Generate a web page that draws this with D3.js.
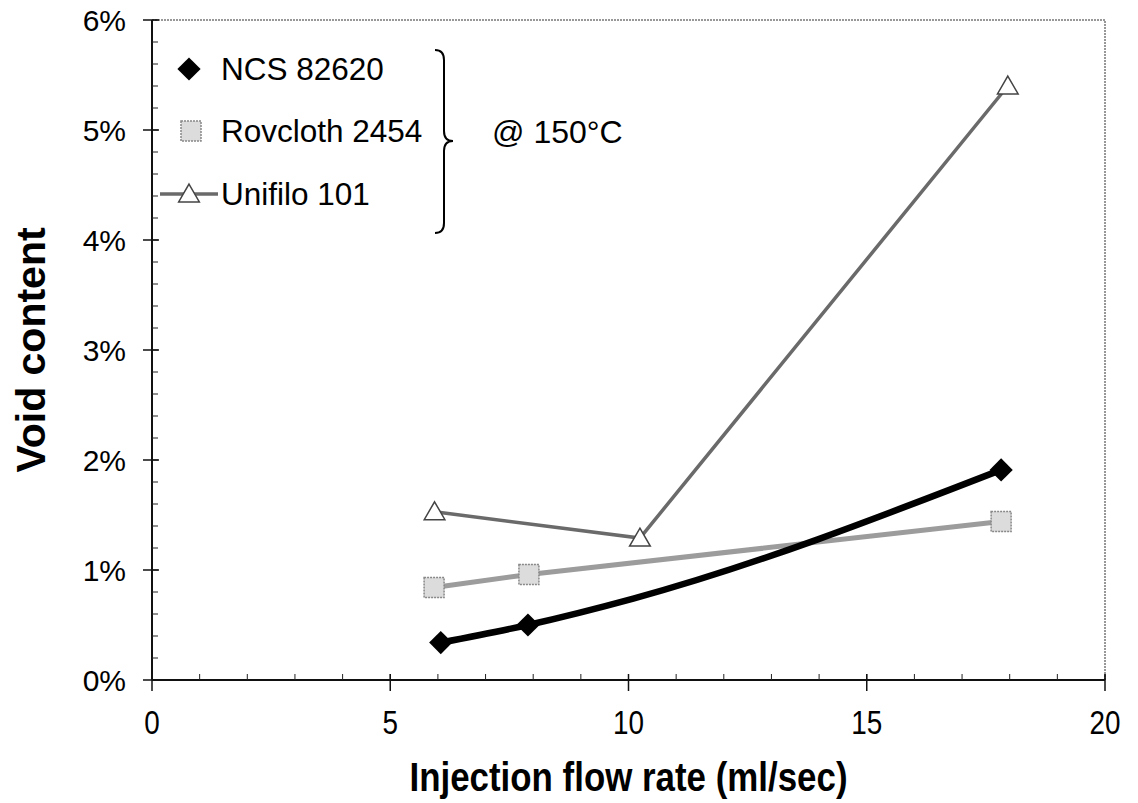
<!DOCTYPE html>
<html><head><meta charset="utf-8">
<script src="https://cdn.jsdelivr.net/npm/d3@7"></script>
<style>body{margin:0;background:#fff}svg{display:block}</style>
</head><body>
<script>
// ---- data ----
const xTicks = [0, 5, 10, 15, 20];
const yTicks = [0, 0.01, 0.02, 0.03, 0.04, 0.05, 0.06];
const ncsX = [6.06, 7.89, 10.1, 17.82];
const ncsY = [0.0034, 0.0050, 0.0074, 0.0191];
const ncsMarker = [true, true, false, true];
const rovX = [5.92, 7.91, 17.82];
const rovY = [0.0084, 0.0096, 0.0144];
const uniX = [5.93, 10.24, 17.96];
const uniY = [0.0153, 0.0129, 0.0540];
const seriesNames = ["NCS 82620", "Rovcloth 2454", "Unifilo 101"];
const noteText = "@ 150°C";
const xTitle = "Injection flow rate (ml/sec)";
const yTitle = "Void content";

(function () {
const W = 1138, H = 803;
const m = {left: 152, right: 33, top: 20, bottom: 123};
const svg = d3.select("body").append("svg").attr("width", W).attr("height", H);
const x = d3.scaleLinear().domain([0, 20]).range([m.left, W - m.right]);
const y = d3.scaleLinear().domain([0, 0.06]).range([H - m.bottom, m.top]);
const FONT = "'Liberation Sans', Arial, sans-serif";

// frame (top/right)
svg.append("path").attr("d", `M${x(0)},${y(0.06)}H${x(20)}V${y(0)}`)
  .attr("fill", "none").attr("stroke", "#777").attr("stroke-width", 1.5).attr("stroke-dasharray", "2,1");

// y axis
const gy = svg.append("g").attr("transform", `translate(${x(0)},0)`);
gy.append("line").attr("y1", y(0)).attr("y2", y(0.06)).attr("stroke", "#111").attr("stroke-width", 2);
const yMinor = d3.range(0, 0.0601, 0.002);
gy.selectAll(".ym").data(yMinor).join("line").attr("x1", 0).attr("x2", 6)
  .attr("y1", d => y(d)).attr("y2", d => y(d)).attr("stroke", "#222").attr("stroke-width", 1);
gy.selectAll(".yM").data(yTicks).join("line").attr("x1", -9).attr("x2", 7)
  .attr("y1", d => y(d)).attr("y2", d => y(d)).attr("stroke", "#111").attr("stroke-width", 1.5);
gy.selectAll(".yl").data(yTicks).join("text").attr("x", -26).attr("y", d => y(d) + 11)
  .attr("text-anchor", "end").attr("font-family", FONT).attr("font-size", 30).attr("fill", "#000")
  .text(d => d3.format(".0%")(d));

// x axis
const gx = svg.append("g").attr("transform", `translate(0,${y(0)})`);
gx.append("line").attr("x1", x(0)).attr("x2", x(20)).attr("stroke", "#111").attr("stroke-width", 2);
gx.selectAll(".xm").data(d3.range(0, 21, 1)).join("line").attr("y1", 0).attr("y2", -6)
  .attr("x1", d => x(d)).attr("x2", d => x(d)).attr("stroke", "#222").attr("stroke-width", 1);
gx.selectAll(".xM").data(xTicks).join("line").attr("y1", -6).attr("y2", 11)
  .attr("x1", d => x(d)).attr("x2", d => x(d)).attr("stroke", "#111").attr("stroke-width", 1.5);
gx.selectAll(".xl").data(xTicks).join("text")
  .attr("transform", d => `translate(${x(d)},54) scale(0.82,1)`)
  .attr("text-anchor", "middle").attr("font-family", FONT)
  .attr("font-size", 34).attr("fill", "#000").text(d => d);

// titles
svg.append("text").attr("x", x(10)).attr("y", 791).attr("text-anchor", "middle")
  .attr("font-family", FONT).attr("font-weight", "bold")
  .attr("font-size", 41).attr("textLength", 438).attr("lengthAdjust", "spacingAndGlyphs").text(xTitle);
svg.append("text").attr("transform", `translate(45,${y(0.03)}) rotate(-90)`).attr("text-anchor", "middle")
  .attr("font-family", FONT).attr("font-weight", "bold").attr("font-size", 41).text(yTitle);

// lines
const lineGen = () => d3.line().x(d => x(d[0])).y(d => y(d[1]));
const ncs = ncsX.map((v, i) => [v, ncsY[i]]);
const rov = rovX.map((v, i) => [v, rovY[i]]);
const uni = uniX.map((v, i) => [v, uniY[i]]);

svg.append("path").attr("d", lineGen()(uni)).attr("fill", "none").attr("stroke", "#6a6a6a").attr("stroke-width", 3.5);
svg.append("path").attr("d", lineGen()(rov)).attr("fill", "none").attr("stroke", "#9c9c9c").attr("stroke-width", 5);
svg.append("path").attr("d", lineGen().curve(d3.curveMonotoneX)(ncs))
  .attr("fill", "none").attr("stroke", "#000").attr("stroke-width", 6.5);

// markers
const diamond = d3.symbol().type(d3.symbolSquare).size(270);
const tri = d3.symbol().type(d3.symbolTriangle).size(185);
function drawDiamond(g, cx, cy) {
  g.append("path").attr("d", diamond()).attr("transform", `translate(${cx},${cy}) rotate(45)`).attr("fill", "#000");
}
function drawSquare(g, cx, cy) {
  g.append("rect").attr("x", cx - 10).attr("y", cy - 10).attr("width", 20).attr("height", 20)
    .attr("fill", "#dcdcdc").attr("stroke", "#888").attr("stroke-width", 1.5).attr("stroke-dasharray", "2,1");
}
function drawTri(g, cx, cy) {
  g.append("path").attr("d", tri()).attr("transform", `translate(${cx},${cy + 2})`)
    .attr("fill", "#fff").attr("stroke", "#444").attr("stroke-width", 1.5);
}
const mk = svg.append("g");
ncs.forEach((p, i) => { if (ncsMarker[i]) drawDiamond(mk, x(p[0]), y(p[1])); });
rov.forEach(p => drawSquare(mk, x(p[0]), y(p[1])));
uni.forEach(p => drawTri(mk, x(p[0]), y(p[1])));

// legend
const lg = svg.append("g");
const ly = [69, 131, 194];
drawDiamond(lg, 189, ly[0]);
drawSquare(lg, 191, ly[1]);
lg.append("line").attr("x1", 160).attr("x2", 218).attr("y1", ly[2]).attr("y2", ly[2]).attr("stroke", "#6a6a6a").attr("stroke-width", 3.5);
drawTri(lg, 189, ly[2]);
lg.selectAll(".lt").data(seriesNames).join("text").attr("x", 221)
  .attr("y", (d, i) => ly[i] + 11).attr("font-family", FONT).attr("font-size", 31.5).text(d => d);

// brace
const bx = 435, bTop = 50, bBot = 233, bMid = 141;
lg.append("path").attr("d",
  `M${bx},${bTop} Q${bx + 9},${bTop} ${bx + 9},${bTop + 10} L${bx + 9},${bMid - 10} Q${bx + 9},${bMid} ${bx + 18},${bMid} ` +
  `Q${bx + 9},${bMid} ${bx + 9},${bMid + 10} L${bx + 9},${bBot - 10} Q${bx + 9},${bBot} ${bx},${bBot}`)
  .attr("fill", "none").attr("stroke", "#000").attr("stroke-width", 2);
lg.append("text").attr("x", 492).attr("y", ly[1] + 12).attr("font-family", FONT).attr("font-size", 32).text(noteText);
})();
</script>
</body></html>
